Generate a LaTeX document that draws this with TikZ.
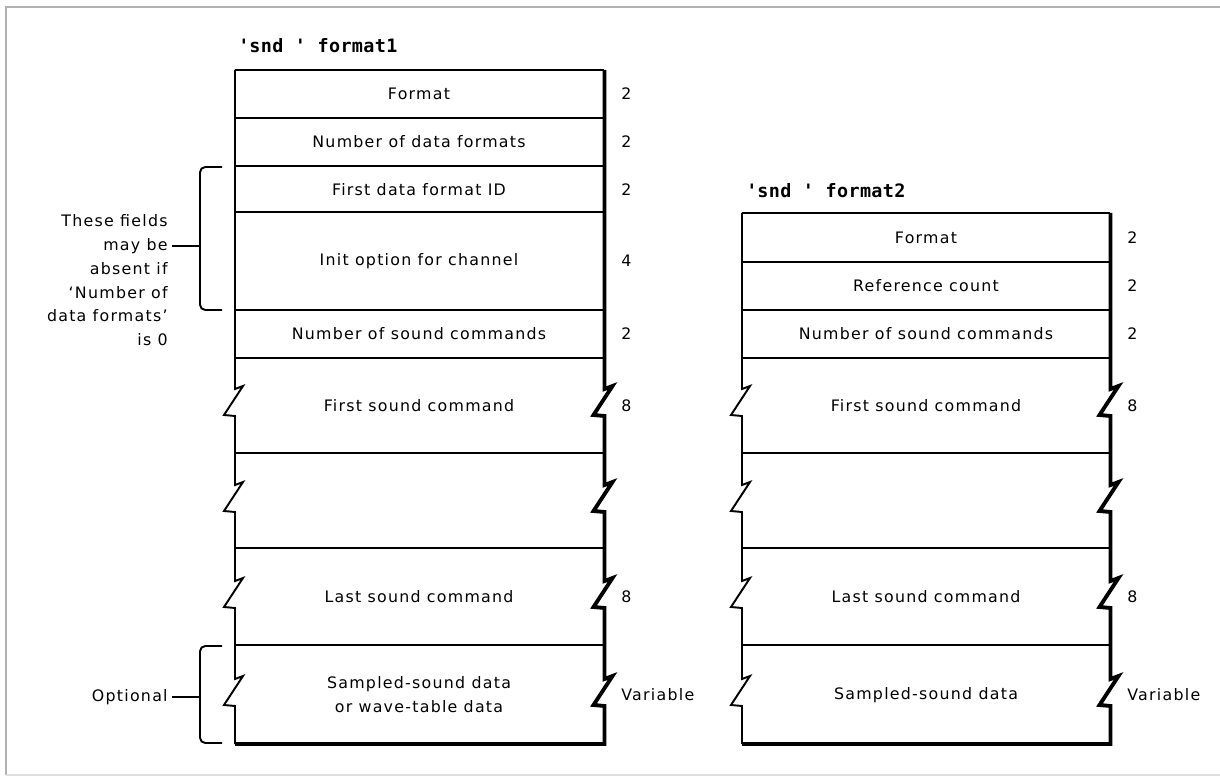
\documentclass[tikz,border=0pt]{standalone}
\usepackage{fontspec}
\setmainfont{DejaVu Sans}[LetterSpace=8]
\newfontfamily\codefont{DejaVu Sans Mono}[LetterSpace=2]
\usetikzlibrary{positioning}
% zigzag break in a side of a record: x of the side, y of the break
\def\Brk#1#2{-- (#1,#2-13) -- (#1+8,#2-16) -- (#1-11,#2+13) -- (#1,#2+14)}

\begin{document}
\begin{tikzpicture}[x=0.02cm,y=-0.02cm,
    every node/.style={font=\fontsize{9}{13.6}\selectfont, inner sep=0pt},
    rim/.style={line width=1.1pt},
    rimthick/.style={line width=2.2pt},
    sz/.style={anchor=west},
    rectitle/.style={anchor=base west, font=\codefont\bfseries\fontsize{10.5}{12}\selectfont}]
    \useasboundingbox (0,0) rectangle (1220,776);
    \draw[gray!60, line width=1.1pt] (1220,7) -- (6,7) -- (6,775);
    \draw[gray!25, line width=1.1pt] (6,775) -- (1220,775);

    % 'snd ' format1
    \node[rectitle] (t1) at (238,53) {\textquotesingle snd \textquotesingle\ format1};
    \node (a1) at (419,94) {Format};
    \node (a2) at (419,142) {Number of data formats};
    \node (a3) at (419,190) {First data format ID};
    \node (a4) at (419,261) {Init option for channel};
    \node (a5) at (419,334) {Number of sound commands};
    \node (a6) at (419,406) {First sound command};
    \node (a7) at (419,597) {Last sound command};
    \node[align=center] (a8) at (419,695) {Sampled-sound data\\or wave-table data};
    \node[sz] (na1) at (621,94) {2};
    \node[sz] (na2) at (621,142) {2};
    \node[sz] (na3) at (621,190) {2};
    \node[sz] (na4) at (621,261) {4};
    \node[sz] (na5) at (621,334) {2};
    \node[sz] (na6) at (621,406) {8};
    \node[sz] (na7) at (621,597) {8};
    \node[sz] (na8) at (621,695) {Variable};
    \draw[rim] (235,70) -- (604,70);
    \foreach \y in {118,166,212,310,358,453,548,645}
      \draw[rim] (235,\y) -- (604,\y);
    \draw[rim] (235,70) -- (235,358) \Brk{235}{402} \Brk{235}{498} \Brk{235}{594} \Brk{235}{692} -- (235,744);
    \draw[rimthick] (604.5,70) -- (604.5,358) \Brk{604.5}{402} \Brk{604.5}{498} \Brk{604.5}{594} \Brk{604.5}{692} -- (604.5,744) -- (235,744);

    % braces on the left
    \draw[rim, rounded corners=3pt] (222,167) -- (200,167) -- (200,310) -- (222,310);
    \coordinate (b1) at (200,246);
    \node[align=right, anchor=north east, inner xsep=2.3pt] (why) at (172,214)
      {These fields\\may be\\absent if\\`Number of\\data formats'\\is 0};
    \draw[rim] (why.east |- b1) -- (b1);
    \draw[rim, rounded corners=3pt] (222,646) -- (200,646) -- (200,743) -- (222,743);
    \coordinate (b2) at (200,697);
    \node[anchor=east, inner xsep=2.3pt] (opt) at (172,697) {Optional};
    \draw[rim] (opt) -- (b2);

    % 'snd ' format2
    \node[rectitle] (t2) at (746,198) {\textquotesingle snd \textquotesingle\ format2};
    \node (c1) at (926,238) {Format};
    \node (c2) at (926,286) {Reference count};
    \node (c3) at (926,334) {Number of sound commands};
    \node (c4) at (926,406) {First sound command};
    \node (c5) at (926,597) {Last sound command};
    \node (c6) at (926,695) {Sampled-sound data};
    \node[sz] (nc1) at (1127,238) {2};
    \node[sz] (nc2) at (1127,286) {2};
    \node[sz] (nc3) at (1127,334) {2};
    \node[sz] (nc4) at (1127,406) {8};
    \node[sz] (nc5) at (1127,597) {8};
    \node[sz] (nc6) at (1127,695) {Variable};
    \draw[rim] (742,213) -- (1110,213);
    \foreach \y in {262,310,358,453,548,645}
      \draw[rim] (742,\y) -- (1110,\y);
    \draw[rim] (742,213) -- (742,358) \Brk{742}{402} \Brk{742}{498} \Brk{742}{594} \Brk{742}{692} -- (742,744);
    \draw[rimthick] (1110.5,213) -- (1110.5,358) \Brk{1110.5}{402} \Brk{1110.5}{498} \Brk{1110.5}{594} \Brk{1110.5}{692} -- (1110.5,744) -- (742,744);
\end{tikzpicture}
\end{document}
